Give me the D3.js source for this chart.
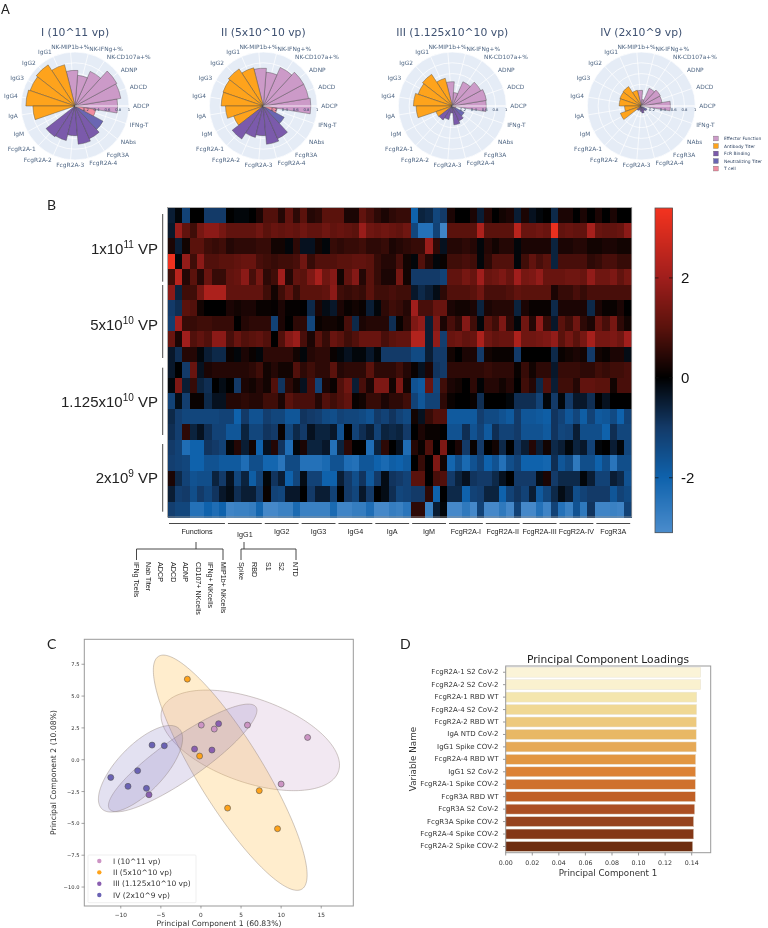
<!DOCTYPE html>
<html><head><meta charset="utf-8">
<script src="https://cdn.jsdelivr.net/npm/d3@7"></script>
<style>html,body{margin:0;padding:0;background:#fff}svg{display:block;filter:blur(.35px)}</style>
</head><body><svg id="c" width="768" height="928"></svg>
<script>
// ---------- Panel A
const polarLabels=["ADCP","ADCD","ADNP","NK-CD107a+%","NK-IFNg+%","NK-MIP1b+%","IgG1","IgG2","IgG3","IgG4","IgA","IgM","FcgR2A-1","FcgR2A-2","FcgR2A-3","FcgR2A-4","FcgR3A","NAbs","IFNg-T"];
const polarGroups=["Effector Function","Effector Function","Effector Function","Effector Function","Effector Function","Effector Function","Antibody Titer","Antibody Titer","Antibody Titer","Antibody Titer","Antibody Titer","Antibody Titer","FcR Binding","FcR Binding","FcR Binding","FcR Binding","FcR Binding","Neutralizing Titer","T cell"];
const polarTitles=["I (10^11 vp)","II (5x10^10 vp)","III (1.125x10^10 vp)","IV (2x10^9 vp)"];
const polarI=[.79,.86,.88,.70,.57,.66,.79,.91,.88,.91,.78,0,.68,.66,.55,.71,.66,.59,.39];
const polarII=[.88,.85,.85,.78,.63,.70,.73,.82,.79,.78,.70,.58,.73,.60,.55,.71,.66,.44,.26];
const polarIII=[.63,.64,.60,.49,.25,.45,.53,.70,.67,.72,.67,.32,.31,.26,.13,.35,.30,.25,.07];
const polarIV=[.54,.39,.40,.36,.12,.29,.30,.43,.42,.41,.31,.41,.10,.08,.10,.13,.10,.12,.03];
const polarTicks=[.2,.4,.6,.8,1];
const legendGroups=["Effector Function","Antibody Titer","FcR Binding","Neutralizing Titer","T cell"];
const legendColors=["#cc9ac8","#fea31c","#7b5aab","#6a66b3","#f08ca0"];
// ---------- Panel B
const heatValues=[
[-.5,-.1,-1.2,0,0,-1,-1,-1, 0,-.1,-.1,0,.3, .9,.9,.4,1.1,.5, 1,.4,.5,1,1, 1,.3,.3,1.1,.8, .5,.3,.5,.6,.6, -2,-.6,-.7,-1.3,-1, .3,0,0,.3,-.5, .4,0,.2,.3,-.5, .3,-.3,-.1,0,-.7, .3,.3,0,.3,0, .3,0,.3,0,0],
[-.4,1.9,1.1,.7,1.4,1.7,1.7,1.4, 1.1,1.1,1.1,1.1,1.3, 1,1.2,1.1,1.2,1.1, 1.3,1.1,1.1,1.3,1.1, 1.2,1.1,1,1.9,1.3, 1.2,1.3,1.2,1.1,1.3, -1.3,-2.4,-2.4,-1.2,-2.9, 1,1,1,1,2.2, 1,1,1,1,2.4, 1.2,1.2,1.3,1.2,3.2, 1.1,1.2,1.1,1.1,2.1, 1.2,1.1,1.1,1.2,1.7],
[.3,-.5,.2,1,1,.7,.6,.7, .4,.5,.5,.5,.6, .6,.2,.2,-.1,.5, -.3,-.3,.2,-.1,.6, .5,.6,.6,.7,.5, .5,.6,.3,.4,.5, .6,.6,1.9,.5,-.3, .4,.4,.5,.4,-.1, .4,.2,.4,.4,-.1, .3,.3,.3,.3,-.6, .3,.3,.4,.4,.2, .2,.3,.3,.2,.2],
[3.3,-.1,1.8,.7,1.7,.9,.9,1, 1,1.1,1.2,1.2,.8, .7,.6,.7,.7,.8, 1.3,.6,.9,.9,.9, 1,1,1.1,1.1,1, .6,.4,.4,.8,.2, -.1,.9,.4,-.1,.1, .7,.7,.8,.7,-.1, .5,.9,.9,.9,-.1, .7,1.1,.8,1,-.6, .8,.8,.8,.8,.5, .6,.8,.8,.6,.6],
[.7,2.4,.4,1,.4,1.2,.6,.6, 1.1,1.2,1.7,.8,1.4, .5,.7,2,.4,1.1, 1,1.5,2.1,1.3,1.6, .2,1.1,1.6,.4,1, .6,.3,.3,1.4,.2, -1,-1,-1,-1,-1.2, 1.1,1.1,1.4,1.2,2, 1.2,1.3,1.5,1.2,2, 1.4,1.5,1.8,1.2,1.2, 1.2,1.3,1.3,1.2,1.8, 1.3,1.3,1.5,1.1,1.4],
[1.7,-.6,.7,.7,1.4,2.2,2.2,2.2, 1.1,1.1,1.1,1.1,1.1, .7,.2,.7,1.1,.6, 1,1,1,1.1,1.7, .7,.6,.7,.6,1, .7,.7,.8,.7,.7, -.4,-.7,-.5,-.2,.5, .9,.9,.9,1,1.3, .8,.8,.8,.9,1.1, 1,1,1,1,.3, .6,.6,.8,.6,.8, .8,.8,.8,.8,.8],
[-1,-.8,1,.9,.2,0,0,0, .3,.2,.3,.3,.1, .1,.05,.3,.05,.05, 0,-.7,.3,-.2,-.4, .3,.1,.2,.1,-.5, -.1,.5,.7,.6,.4, 2,.8,.8,1.2,1.2, .3,.2,.2,.3,-.6, .3,.4,.4,.4,-.6, .3,.1,.1,.1,-.7, .3,.3,.3,.3,-.7, .3,.1,.1,.3,0],
[-1.1,2,.6,.6,.7,.7,.6,.6, .6,0,.4,.5,.5, .5,-1.2,.3,0,.5, .5,-1.3,.1,.2,.2, .1,.8,-.7,.3,.4, .4,.4,-.8,.1,.5, 1.5,1.8,-.5,1.5,.3, .8,.5,1.6,.7,-.1, 1,.7,1.5,.5,-.1, 1.3,.4,1.8,.6,-.4, 1,.7,1.3,.5,.3, 1.2,.8,1.4,.5,.2],
[1.2,.3,2,.9,1.1,.9,1.7,1.7, .8,1.2,.9,1,1.1, .9,0,.9,1.6,1.9, .8,.3,1,.6,1.2, 1,.7,.9,1.2,1.2, 1.2,.8,1,1.1,1.1, 2.3,2.3,-.5,1.8,-1.1, 1.2,1.3,1.1,1.2,2.2, 1.3,1.1,1.2,1.2,2.2, 1.3,1.3,1.4,1.5,1.8, 1,1.4,1,1.4,2.1, 1.4,1.4,1.5,1.3,2],
[-.4,-.8,.4,.4,-.1,-.5,-.7,-.7, .1,-.1,.3,.1,-.1, .5,.5,.5,.5,.2, -.1,.4,.5,.5,.1, -.1,-.3,-.1,-.1,-.4, -.1,-1,-1,-1,-1, -1.4,-1.4,-.5,-1,-1, .2,0,.3,.3,-1, .2,.1,.1,.1,-1, 0,0,0,0,-.7, .1,.2,.3,.2,-1, .2,.1,.3,.3,-.2],
[-.4,0,-1,1.2,-.3,.3,.4,.4, .4,.4,.4,.5,.7, .2,.4,.2,.2,.9, .5,.7,.5,.5,1, .4,.5,.5,.5,1, .5,.5,.5,.7,.4, .1,-.3,.3,-.9,-1, .5,.5,.5,.5,.5, .6,.5,.5,.5,.1, .6,.2,.5,.5,-.4, .6,.6,.6,.5,.5, .7,.6,.7,.7,.8],
[-.1,1.5,-.5,.6,-.6,-.8,0,-.2, 0,-1,.3,.2,.4, .2,.9,-.9,.5,.2, -.3,.8,-1.2,.3,.1, .9,1.3,-.5,.8,.3, 1.5,1.5,.2,1.5,.2, -1.6,-1.8,1.2,-1.3,.7, .3,.2,0,.5,-.05, .4,.4,.2,.4,0, .7,.4,-.7,.9,-.5, .7,.7,.4,1.1,1.1, 1,1,.2,.8,.8],
[-1.2,-.2,-1.1,.1,.1,-.7,-.3,-.3, .4,.4,.5,.4,.4, .7,.7,.3,1,.8, .8,.8,.4,.9,.7, .9,1.1,.1,.2,.6, .6,.3,.5,.5,.7, -1.2,-1.7,-1.2,-1.2,.5, .1,0,0,.1,-.8, 0,0,0,-.1,-.8, -.8,-.8,-1.2,-.1,-1, -.1,-1,-.4,-.4,-.8, 0,-.3,0,0,0],
[-.7,-1.1,-1.3,-1.3,-1.3,-1.3,-1.3,-1.2, -1.2,-2,-1,-1.6,-1.6, -1.1,-1.3,-1.3,-1.7,-1.7, -.9,-1,-1.1,-1.4,-1.5, -1.2,-1.3,-1.3,-1.4,-1.6, -1,-1.2,-.9,-1.2,-1.4, .2,-.3,.6,.9,.9, -1.8,-1.8,-1.8,-1.8,-1.1, -1.4,-1.4,-1.6,-1.8,-1, -1.7,-1.7,-1.8,-1.9,-.9, -1.2,-1.7,-1.3,-1.9,-1.2, -1.8,-1.7,-1.4,-2,-1.2],
[-.8,-1.1,.5,-.6,-.3,-.8,-1.2,-1.2, -1.7,-1.7,-.6,-1.3,-1.3, -.9,-1,.1,-1.3,-.7, -1,-.3,-.6,-.6,-.4, -1.6,0,-1.2,-.8,-.5, -1.2,-.6,-.7,-.6,-1, 0,.3,.1,.1,0, -1.6,-1.6,-.8,-1.6,-1.2, -1.8,-.8,-1.2,-1.2,-1, -1.6,-1.6,-1.6,-1.8,-.9, -1.3,-1.2,-.5,-1.5,-1.5, -1.5,-2,-.8,-1.3,-1.3],
[-1,-1.2,-2.3,-2,-2,-.9,-1,-1.2, -.1,.4,-.5,.2,-2, -.3,.4,-.9,-2.3,-.1, .3,-.6,-.6,-.4,-2.4, -.6,.5,0,0,-2.3, -.6,.5,0,-.3,-2.3, .4,.1,.9,0,1.5, 0,.3,-1,.1,-1, 0,.2,-.7,0,-.9, -.5,.4,-.5,.2,-.7, -.5,-.1,-.6,-.4,-1.2, -.1,0,-.5,-.1,-1.3],
[-1.1,-1.2,-1.3,-2,-2,-1.6,-1.6,-1.8, -1.8,-1.8,-2.3,-1.5,-1.5, -2.1,-2.1,-2.5,-1.4,-1.4, -2.4,-2.4,-2.4,-2.2,-1.6, -1.6,-2.3,-2.4,-1.7,-1.7, -2,-2.2,-1.9,-2,-1.8, 0,.6,0,1.5,.2, -2.1,-1.5,-2.2,-1.6,-1.2, -2,-1.6,-2.4,-1.5,-1.2, -2,-2,-2,-2.1,-.8, -1.7,-1.4,-2.6,-1.5,-1.5, -2,-1.5,-2.5,-1.5,-1.5],
[.3,-.7,-1.2,-1.6,-1.5,-1.5,-.6,-1, -.3,-1.3,-.6,-1.9,-1.2, -.1,-.9,-.5,-2,-1.3, -.2,-1.2,-1.2,-2,-2, -.5,-1,-1.5,-.9,-1.8, -1,-.2,-.9,-1,-1.2, 1,1,0,.8,.9, -1,-.6,-.3,-.9,-1, -1,-.7,-.3,0,-1, -1,-1,-.2,.3,-1, -.7,-.7,-.7,-.1,-.5, -1.2,-1.2,-.5,-.7,-1.6],
[-.5,-1.1,-1,-1.5,-1,-1.3,-.9,-.4, -.2,-.8,-.5,-.5,-1, .1,-1.2,-1.3,-.4,-.4, 0,-1,-.5,-.5,-1.2, 0,-1,-1.3,-.4,-1, 0,-.2,-.8,-1.3,-1.2, -1,-1,.5,-2,0, -.7,-.7,-2,-1.2,-1.1, -.6,-.6,-2,-1.2,-.9, -1.2,-.5,-1.8,-1.3,-.7, -.2,-.5,-1.5,-1.2,-1, -1,-1,-1.7,-1.2,-1.4],
[-1.1,-1.3,-1.3,-2.4,-2.4,-2,-2.3,-2, -2.9,-2.8,-2.8,-2.7,-2.1, -3,-3,-2.8,-2.8,-2.2, -2.8,-2.8,-2.8,-2.8,-2.2, -2.9,-2.9,-2.7,-2.7,-2.3, -3,-3,-2.7,-2.8,-2.5, .5,.5,-2.8,-.5,-.1, -3,-3,-2.6,-3,-1.2, -3,-3,-2.6,-3,-1.2, -3,-3,-2.4,-2.9,-1.2, -2.4,-2.8,-1.6,-2.6,-.9, -2.9,-2.9,-2.8,-2.9,-1.2]
];
const heatColorDomain=[-3.1,-2,-1,0,1,2,3.4];
const heatColorRange=["#4a8ccc","#0f62ac","#133a68","#000000","#5a120c","#a01e1c","#f5331f"];
const colorbarTicks=[2,0,-2];
const doseGroups=[["1x10","11"],["5x10","10"],["1.125x10","10"],["2x10","9"]];
const measureGroups=[["Functions",0,7],["IgG1",8,12],["IgG2",13,17],["IgG3",18,22],["IgG4",23,27],["IgA",28,32],["IgM",33,37],["FcgR2A-I",38,42],["FcgR2A-II",43,47],["FcgR2A-III",48,52],["FcgR2A-IV",53,57],["FcgR3A",58,62]];
const functionLabels=["IFNg Tcells","Nab Titer","ADCP","ADCD","ADNP","CD107+ NKcells","IFNg+ NKcells","MIP1b+ NKcells"];
const antigenLabels=["Spike","RBD","S1","S2","NTD"];
// ---------- Panel C
const pcaNames=["I (10^11 vp)","II (5x10^10 vp)","III (1.125x10^10 vp)","IV (2x10^9 vp)"];
const pcaColors=["#cc94c4","#ffa31a","#8a5fb0","#6a62b4"];
const pcaEllipseFill=["#c9a0c8","#ffc04d","#8f7cc0","#7f78c0"];
const pcaI=[[.04,2.72],[1.66,2.41],[5.8,2.72],[13.3,1.75],[10,-1.91]];
const pcaII=[[-1.7,6.33],[-.17,.29],[7.27,-2.43],[3.32,-3.8],[9.55,-5.42]];
const pcaIII=[[2.2,2.83],[-.8,.84],[1.37,.76],[-6.48,-2.75]];
const pcaIV=[[-6.1,1.15],[-4.57,1.1],[-7.9,-.86],[-11.25,-1.39],[-9.1,-2.09],[-6.8,-2.25]];
// centre x, centre y, half width, half height, correlation
const pcaEllipses=[[6.15,1.52,11.13,3.95,-.489],[3.65,-1.02,9.59,9.24,-.87],[-2.28,.14,9.26,4.23,.883],[-7.54,-.71,5.25,3.40,.7]];
const pcaXTicks=[-10,-5,0,5,10,15];
const pcaYTicks=[-10,-7.5,-5,-2.5,0,2.5,5,7.5];
// ---------- Panel D
const loadingNames=["FcgR2A-1 S2 CoV-2","FcgR2A-2 S2 CoV-2","FcgR2A-1 RBD WT","FcgR2A-4 S2 CoV-2","FcgR2A-2 RBD WT","IgA NTD CoV-2","IgG1 Spike COV-2","FcgR2A-4 RBD WT","IgG1 S2 CoV-2","FcgR2A-1 Spike COV-2","FcgR3A RBD WT","FcgR3A S2 CoV-2","FcgR3A Spike COV-2","FcgR2A-4 Spike COV-2","FcgR2A-2 Spike COV-2"];
const loadingValues=[.1468,.1468,.1438,.1437,.1435,.1434,.1434,.143,.143,.1428,.1428,.1423,.1415,.1415,.1408];
const loadingColors=["#fbf4d8","#faf1cf","#f4e6ae","#f0d894","#edc97d","#e8b865","#e6a956","#e29642","#dc8235","#cf712c","#c06026","#ab4f23","#96441f","#843717","#6e2d10"];
const loadingTicks=[0,.02,.04,.06,.08,.1,.12,.14];

const svg=d3.select("#c");
const DJ="'DejaVu Sans',sans-serif", AR="'Liberation Sans',Arial,sans-serif", PL="#2a3f5f", MT="#333";
function txt(g,x,y,s,o={}){const t=g.append("text").attr("x",x).attr("y",y).text(s)
  .attr("font-family",o.f||DJ).attr("font-size",o.s||7).attr("fill",o.c||"#222").attr("text-anchor",o.a||"start");
  if(o.b)t.attr("dominant-baseline",o.b); if(o.r!==undefined)t.attr("transform",`rotate(${o.r} ${x} ${y})`); return t;}

// panel letters
[["A",1,14,13],["B",47,210,14],["C",47,649,14],["D",400,649,14]].forEach(d=>txt(svg,d[1],d[2],d[0],{f:"Lato,sans-serif",s:d[3],c:"#222"}));

// ---- A: polar bars
const polarCenters=[75,263.3,452.3,641.3], polarCY=106, polarR=54;
const rScale=d3.scaleLinear().domain([0,1]).range([0,polarR]);
const thetaStep=360/polarLabels.length;
const polarColor=d3.scaleOrdinal().domain(legendGroups).range(legendColors);
[polarI,polarII,polarIII,polarIV].forEach((vals,pi)=>{
  const g=svg.append("g").attr("transform",`translate(${polarCenters[pi]},${polarCY})`);
  g.append("circle").attr("r",polarR).attr("fill","#e5ecf6");
  polarTicks.forEach(t=>g.append("circle").attr("r",rScale(t)).attr("fill","none").attr("stroke","#fff").attr("stroke-width",.7));
  polarLabels.forEach((l,i)=>{const a=i*thetaStep*Math.PI/180;
    g.append("line").attr("x2",polarR*Math.cos(a)).attr("y2",-polarR*Math.sin(a)).attr("stroke","#fff").attr("stroke-width",.7);});
  vals.forEach((v,i)=>{ if(v<=0) return;
    const c=(90-i*thetaStep);
    const arc=d3.arc().innerRadius(0).outerRadius(rScale(v)).startAngle((c-thetaStep/2)*Math.PI/180).endAngle((c+thetaStep/2)*Math.PI/180);
    g.append("path").attr("d",arc()).attr("fill",polarColor(polarGroups[i])).attr("stroke","#444").attr("stroke-opacity",.8).attr("stroke-width",.5);
  });
  g.append("line").attr("x2",polarR).attr("stroke","#fff").attr("stroke-width",.8);
  polarTicks.forEach(t=>txt(g,rScale(t),5,d3.format("~g")(t),{s:3.8,c:PL,a:"middle"}));
  polarLabels.forEach((l,i)=>{const a=i*thetaStep*Math.PI/180,cs=Math.cos(a);
    txt(g,58*cs,-59*Math.sin(a),l,{s:5.9,c:"#506784",a:Math.abs(cs)<.1?"middle":(cs>0?"start":"end"),b:"central"});});
  txt(svg,polarCenters[pi],36,polarTitles[pi],{s:10.8,c:"#3f5272",a:"middle"});
});
legendGroups.forEach((n,i)=>{const y=138.5+i*7.52;
  svg.append("rect").attr("x",713.5).attr("y",y-2.4).attr("width",4.8).attr("height",4.8).attr("fill",legendColors[i]).attr("stroke","#555").attr("stroke-width",.3);
  txt(svg,724,y,n,{s:4.4,c:PL,b:"central"});});

// ---- B: heatmap
const hx=d3.scaleBand().domain(d3.range(63)).range([167.5,631.7]);
const hy=d3.scaleBand().domain(d3.range(20)).range([207.5,517]);
const hc=d3.scaleLinear().domain(heatColorDomain).range(heatColorRange);
const hg=svg.append("g").attr("shape-rendering","crispEdges");
heatValues.forEach((row,r)=>row.forEach((v,k)=>hg.append("rect").attr("x",hx(k)).attr("y",hy(r)).attr("width",hx.bandwidth()+.5).attr("height",hy.bandwidth()+.5).attr("fill",hc(v))));
svg.append("rect").attr("x",167.5).attr("y",207.5).attr("width",464.2).attr("height",309.5).attr("fill","none").attr("stroke","#999").attr("stroke-width",.8);
// colourbar
const cbY=d3.scaleLinear().domain([-3.1,3.4]).range([532.7,208]);
const cbG=svg.append("g").attr("shape-rendering","crispEdges");
d3.range(-3.1,3.4,.02).forEach(v=>cbG.append("rect").attr("x",655).attr("y",cbY(v+.02)).attr("width",17.5).attr("height",cbY(v)-cbY(v+.02)+.5).attr("fill",hc(v)));
svg.append("rect").attr("x",655).attr("y",208).attr("width",17.5).attr("height",324.7).attr("fill","none").attr("stroke","#555").attr("stroke-width",.8);
colorbarTicks.forEach(t=>{
  [[655,658.5],[669,672.5]].forEach(s=>svg.append("line").attr("x1",s[0]).attr("x2",s[1]).attr("y1",cbY(t)).attr("y2",cbY(t)).attr("stroke","#111").attr("stroke-width",.7));
  txt(svg,681,cbY(t),t,{f:AR,s:15,c:"#111",b:"central"});});
// dose brackets
[[214,281.7,254],[285,358,330],[367.7,435,407],[444,511.7,483]].forEach((d,i)=>{
  svg.append("line").attr("x1",162.7).attr("x2",162.7).attr("y1",d[0]).attr("y2",d[1]).attr("stroke","#333").attr("stroke-width",.9);
  const t=txt(svg,158,d[2],"",{f:AR,s:15,c:"#222",a:"end"});
  t.append("tspan").text(doseGroups[i][0]);
  t.append("tspan").text(doseGroups[i][1]).attr("font-size",10).attr("dy",-6);
  t.append("tspan").text(" VP").attr("dy",6);
});
// measure brackets
measureGroups.forEach((m,i)=>{
  const x0=hx(m[1])+1.5,x1=hx(m[2])+hx.bandwidth()-1.5;
  svg.append("line").attr("x1",x0).attr("x2",x1).attr("y1",523.5).attr("y2",523.5).attr("stroke","#333").attr("stroke-width",.9);
  txt(svg,(x0+x1)/2,i==1?534:531,m[0],{f:AR,s:7.2,c:"#222",a:"middle",b:"central"});
});
// sub-trees
function tree(cx,x0,x1){
  const p=`M${cx},542V549M${x0},560V549H${x1}V560`;
  svg.append("path").attr("d",p).attr("fill","none").attr("stroke","#333").attr("stroke-width",.9);
}
tree(196,136.5,223); tree(244,241,296);
const fnX=d3.scalePoint().domain(functionLabels).range([136,223]);
functionLabels.forEach(l=>txt(svg,fnX(l),562,l,{f:AR,s:7.2,c:"#222",b:"central",r:90}));
const agX=d3.scalePoint().domain(antigenLabels).range([241,295]);
antigenLabels.forEach(l=>txt(svg,agX(l),562,l,{f:AR,s:7.2,c:"#222",b:"central",r:90}));

// ---- C: PCA
const cx=d3.scaleLinear().domain([-14.55,19]).range([84.3,353.3]);
const cy=d3.scaleLinear().domain([-11.49,9.46]).range([906,639.3]);
const cg=svg.append("g");
pcaEllipses.forEach((e,i)=>{
  const phi=Math.acos(e[4]);
  const pts=d3.range(0,2*Math.PI+.01,.03).map(t=>[cx(e[0]+e[2]*Math.cos(t)),cy(e[1]+e[3]*Math.cos(t-phi))]);
  cg.append("path").attr("d",d3.line()(pts)+"Z").attr("fill",pcaEllipseFill[i]).attr("fill-opacity",i==1?.28:(i==0?.24:.22)).attr("stroke","#8a7a70").attr("stroke-opacity",.5).attr("stroke-width",.8);
});
[pcaI,pcaII,pcaIII,pcaIV].forEach((pts,i)=>pts.forEach(p=>cg.append("circle").attr("cx",cx(p[0])).attr("cy",cy(p[1])).attr("r",3).attr("fill",pcaColors[i]).attr("stroke","#555").attr("stroke-width",.6)));
svg.append("rect").attr("x",84.3).attr("y",639.3).attr("width",269).attr("height",266.7).attr("fill","none").attr("stroke","#999").attr("stroke-width",1);
pcaXTicks.forEach(t=>{svg.append("line").attr("x1",cx(t)).attr("x2",cx(t)).attr("y1",906).attr("y2",908.5).attr("stroke","#666").attr("stroke-width",.6);
  txt(svg,cx(t),914.7,(t<0?"\u2212":"")+Math.abs(t),{s:5.8,c:MT,a:"middle",b:"central"});});
pcaYTicks.forEach(t=>{svg.append("line").attr("x1",81.5).attr("x2",84.3).attr("y1",cy(t)).attr("y2",cy(t)).attr("stroke","#666").attr("stroke-width",.6);
  txt(svg,79.5,cy(t),(t<0?"\u2212":"")+d3.format(".1f")(Math.abs(t)),{s:5.2,c:MT,a:"end",b:"central"});});
txt(svg,53,772.5,"Principal Component 2 (10.08%)",{s:7.7,c:MT,a:"middle",b:"central",r:-90});
txt(svg,219,923.3,"Principal Component 1 (60.83%)",{s:7.7,c:MT,a:"middle",b:"central"});
svg.append("rect").attr("x",88).attr("y",855).attr("width",108).attr("height",47.7).attr("rx",1).attr("fill","#fff").attr("fill-opacity",.8).attr("stroke","#e4e4e4").attr("stroke-width",.6);
pcaNames.forEach((n,i)=>{const y=861+i*11.35;
  svg.append("circle").attr("cx",99.3).attr("cy",y).attr("r",2.2).attr("fill",pcaColors[i]);
  txt(svg,113,y,n,{s:7.5,c:MT,b:"central"});});

// ---- D: loadings
const dx=d3.scaleLinear().domain([0,.1543]).range([505.7,710.7]);
const dy=d3.scaleBand().domain(loadingNames).range([666,852.7]).paddingInner(.2).paddingOuter(.1);
const dg=svg.append("g");
loadingNames.forEach((n,i)=>{
  dg.append("rect").attr("x",dx(0)).attr("y",dy(n)).attr("width",dx(loadingValues[i])-dx(0)).attr("height",dy.bandwidth()).attr("fill",loadingColors[i]).attr("stroke","#e8e4d8").attr("stroke-width",.5);
  svg.append("line").attr("x1",503).attr("x2",505.7).attr("y1",dy(n)+dy.bandwidth()/2).attr("y2",dy(n)+dy.bandwidth()/2).attr("stroke","#555").attr("stroke-width",.6);
  txt(svg,498.5,dy(n)+dy.bandwidth()/2,n,{s:7,c:MT,a:"end",b:"central"});
});
svg.append("rect").attr("x",505.7).attr("y",666).attr("width",205).attr("height",186.7).attr("fill","none").attr("stroke","#999").attr("stroke-width",1);
loadingTicks.forEach(t=>{svg.append("line").attr("x1",dx(t)).attr("x2",dx(t)).attr("y1",852.7).attr("y2",855.5).attr("stroke","#555").attr("stroke-width",.6);
  txt(svg,dx(t),862.5,d3.format(".2f")(t),{s:6.3,c:MT,a:"middle",b:"central"});});
txt(svg,608,872.5,"Principal Component 1",{s:8.7,c:MT,a:"middle",b:"central"});
txt(svg,413,759,"Variable Name",{s:8.8,c:MT,a:"middle",b:"central",r:-90});
txt(svg,608,659,"Principal Component Loadings",{s:10.7,c:"#222",a:"middle",b:"central"});
</script></body></html>
